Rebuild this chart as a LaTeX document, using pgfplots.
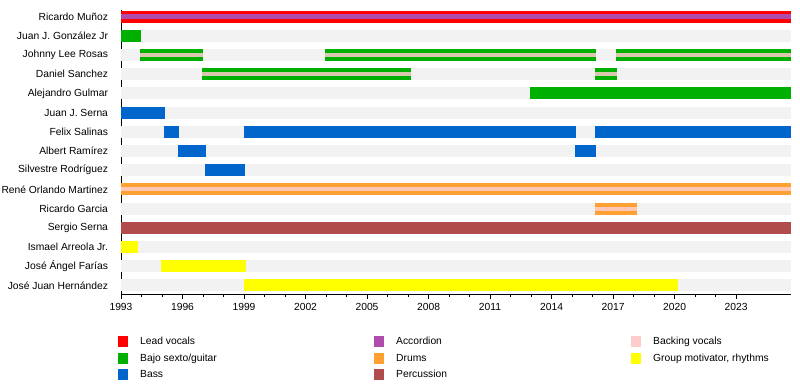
\documentclass[border=0pt]{standalone}
\usepackage{fontspec}
\setmainfont{Liberation Sans}
\usepackage{pgfplots}
\pgfplotsset{compat=1.18}
\definecolor{lead}{HTML}{FF0000}
\definecolor{guitar}{HTML}{00B000}
\definecolor{bass}{HTML}{0066CC}
\definecolor{accordion}{HTML}{B04CAC}
\definecolor{drums}{HTML}{FFA033}
\definecolor{perc}{HTML}{B04C4C}
\definecolor{backing}{HTML}{FFCCCC}
\definecolor{motiv}{HTML}{FFFF00}
\definecolor{bg}{HTML}{F2F2F2}
\newcommand\chartfont{\fontsize{10.3bp}{12.4bp}\selectfont}
% \seg{colour}{line width}{row}{from}{to}
\newcommand\seg[5]{\addplot[forget plot, draw=#1, line width=#2, line cap=butt] coordinates {(#4,#3) (#5,#3)};}
\begin{document}
\begin{tikzpicture}
\useasboundingbox (0,0) rectangle (800bp,-390bp);
\begin{axis}[
  at={(121bp,-294bp)}, anchor=south west,
  scale only axis, width=670bp, height=284bp,
  xmin=1993, xmax=2025.68, ymin=-0.338, ymax=14.445,
  y dir=reverse, clip=false,
  axis x line=bottom, axis y line=left,
  axis line style={-, black, line width=1bp},
  xtick={1993,1996,1999,2002,2005,2008,2011,2014,2017,2020,2023},
  xticklabels={1993,1996,1999,2002,2005,2008,2011,2014,2017,2020,2023},
  minor x tick num=2,
  tick align=outside,
  major tick length=5bp, minor tick length=3bp,
  x tick style={black, line width=1bp},
  xticklabel style={font=\chartfont, yshift=-1bp},
  ytick={0,1,2,3,4,5,6,7,8,9,10,11,12,13,14},
  yticklabels={Ricardo Muñoz, Juan J. González Jr, Johnny Lee Rosas, Daniel Sanchez, Alejandro Gulmar, Juan J. Serna, Felix Salinas, Albert Ramírez, Silvestre Rodríguez, René Orlando Martinez, Ricardo Garcia, Sergio Serna, Ismael Arreola Jr., José Ángel Farías, José Juan Hernández},
  y tick style={draw=none},
  yticklabel style={font=\chartfont, xshift=-4.5bp},
  legend columns=3,
  legend cell align=left,
  legend image code/.code={\fill[#1] (0bp,-5.5bp) rectangle (10bp,5.5bp);},
  legend style={at={(axis description cs:-0.0045,-0.148)}, anchor=north west,
    draw=none, fill=none, inner sep=0pt, row sep=5.5bp, font=\chartfont,
    nodes={inner sep=0pt, anchor=west},
    /tikz/every odd column/.append style={column sep=12bp}},
]
% background rows
\seg{bg}{12bp}{1}{1993}{2025.68}
\seg{bg}{12bp}{2}{1993}{2025.68}
\seg{bg}{12bp}{3}{1993}{2025.68}
\seg{bg}{12bp}{4}{1993}{2025.68}
\seg{bg}{12bp}{5}{1993}{2025.68}
\seg{bg}{12bp}{6}{1993}{2025.68}
\seg{bg}{12bp}{7}{1993}{2025.68}
\seg{bg}{12bp}{8}{1993}{2025.68}
\seg{bg}{12bp}{10}{1993}{2025.68}
\seg{bg}{12bp}{12}{1993}{2025.68}
\seg{bg}{12bp}{13}{1993}{2025.68}
\seg{bg}{12bp}{14}{1993}{2025.68}
% Ricardo Munoz: lead vocals + accordion
\seg{lead}{12bp}{0}{1993}{2025.68}
\seg{accordion}{4.6bp}{0}{1993}{2025.68}
% Juan J. Gonzalez Jr
\seg{guitar}{12bp}{1}{1993}{1993.98}
% Johnny Lee Rosas
\seg{guitar}{12bp}{2}{1993.93}{1996.99}
\seg{guitar}{12bp}{2}{2002.95}{2016.17}
\seg{guitar}{12bp}{2}{2017.15}{2025.68}
\seg{backing!85!guitar}{4bp}{2}{1993.93}{1996.99}
\seg{backing!85!guitar}{4bp}{2}{2002.95}{2016.17}
\seg{backing!85!guitar}{4bp}{2}{2017.15}{2025.68}
% Daniel Sanchez
\seg{guitar}{12bp}{3}{1996.97}{2007.15}
\seg{guitar}{12bp}{3}{2016.12}{2017.2}
\seg{backing!85!guitar}{4bp}{3}{1996.97}{2007.15}
\seg{backing!85!guitar}{4bp}{3}{2016.12}{2017.2}
% Alejandro Gulmar
\seg{guitar}{12bp}{4}{2012.95}{2025.68}
% Juan J. Serna
\seg{bass}{12bp}{5}{1993}{1995.15}
% Felix Salinas
\seg{bass}{12bp}{6}{1995.1}{1995.83}
\seg{bass}{12bp}{6}{1999.0}{2015.2}
\seg{bass}{12bp}{6}{2016.12}{2025.68}
% Albert Ramirez
\seg{bass}{12bp}{7}{1995.78}{1997.15}
\seg{bass}{12bp}{7}{2015.15}{2016.17}
% Silvestre Rodriguez
\seg{bass}{12bp}{8}{1997.1}{1999.05}
% Rene Orlando Martinez
\seg{drums}{12bp}{9}{1993}{2025.68}
\seg{backing!85!drums}{4bp}{9}{1993}{2025.68}
% Ricardo Garcia
\seg{drums}{12bp}{10}{2016.12}{2018.17}
\seg{backing!85!drums}{4bp}{10}{2016.12}{2018.17}
% Sergio Serna
\seg{perc}{12bp}{11}{1993}{2025.68}
% Ismael Arreola Jr.
\seg{motiv}{12bp}{12}{1993}{1993.83}
% Jose Angel Farias
\seg{motiv}{12bp}{13}{1994.95}{1999.1}
% Jose Juan Hernandez
\seg{motiv}{12bp}{14}{1999.0}{2020.17}
% legend (row-major: three columns)
\addlegendimage{fill=lead, draw=none}
\addlegendentry{\makebox[234bp][l]{Lead vocals}}
\addlegendimage{fill=accordion, draw=none}
\addlegendentry{\makebox[235bp][l]{Accordion}}
\addlegendimage{fill=backing, draw=none}
\addlegendentry{\makebox[140bp][l]{Backing vocals}}
\addlegendimage{fill=guitar, draw=none}
\addlegendentry{\makebox[234bp][l]{Bajo sexto/guitar}}
\addlegendimage{fill=drums, draw=none}
\addlegendentry{\makebox[235bp][l]{Drums}}
\addlegendimage{fill=motiv, draw=none}
\addlegendentry{\makebox[140bp][l]{Group motivator, rhythms}}
\addlegendimage{fill=bass, draw=none}
\addlegendentry{\makebox[234bp][l]{Bass}}
\addlegendimage{fill=perc, draw=none}
\addlegendentry{\makebox[235bp][l]{Percussion}}
\end{axis}
\end{tikzpicture}
\end{document}
